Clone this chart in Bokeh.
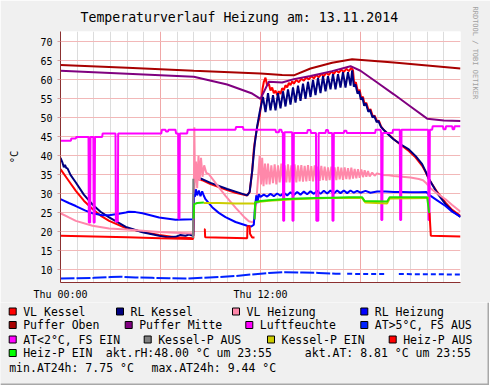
import math
from bokeh.plotting import figure
from bokeh.models import Range1d, FixedTicker, Grid, Title
from bokeh.layouts import column
from bokeh.core.properties import value
from bokeh.embed import file_html
from bokeh.resources import INLINE

NAN = float("nan")
MONO = "DejaVu Sans Mono"

# ---------------- data (hours since Thu 00:00, values in °C / %) ----------------
vlk_h = [0, 0.5, 0.92, 1.4, 1.92, 2.4, 2.92, 3.92, 4.92, 5.92, 6.9, 7.97, 8.03, 8.5, 9.0, 9.5, 10.0, 10.5,
         11.2, 11.35, 11.5, 11.6, 11.7, 11.8, 11.95, 12.05, 12.12, 12.2, 12.3, 12.4, 12.5, 12.6, 12.7, 12.8,
         12.9, 13.0, 13.1, 13.2, 13.3, 13.4, 13.5, 13.6, 13.7, 13.8, 13.9, 14.0, 14.15, 14.3, 14.45, 14.6,
         14.75, 14.9, 15.05, 15.2, 15.35, 15.5, 15.65, 15.8, 15.95, 16.1, 16.25, 16.4, 16.55, 16.7, 16.85,
         17.0, 17.15, 17.3, 17.45, 17.55, 17.62, 17.72, 17.85, 17.95, 18.05, 18.15, 18.25, 18.35, 18.5, 18.6,
         18.75, 18.85, 19.0, 19.1, 19.25, 19.45, 19.7, 20.0, 20.5, 20.9, 21.3, 21.7, 21.9, 22.1, 22.6, 23.1,
         23.5, 24.0]
vlk_v = [36.5, 33.4, 30.8, 28.2, 26.0, 24.3, 22.9, 21.0, 20.0, 19.2, 18.6, 18.3, 34.2, 33.6, 32.6, 31.8, 31.0, 30.3,
         29.6, 30.5, 36.0, 41.8, 45.0, 47.5, 50.5, 54.0, 57.6, 59.5, 60.6, 58.5, 59.0, 57.2, 58.0, 56.5,
         57.2, 56.0, 57.0, 56.3, 57.8, 57.3, 58.6, 58.0, 59.2, 58.6, 59.6, 59.0, 60.0, 59.4, 60.3, 59.8,
         60.7, 60.1, 61.0, 60.4, 61.3, 60.7, 61.6, 61.0, 61.9, 61.3, 62.2, 61.6, 62.5, 61.9, 62.7,
         62.1, 62.9, 62.3, 63.2, 62.5, 59.0, 59.4, 56.8, 57.4, 55.0, 55.6, 53.4, 54.0, 51.8, 52.3,
         50.2, 50.6, 49.0, 49.3, 47.6, 46.6, 45.6, 44.4, 42.6, 41.3, 39.6, 37.4, 35.8, 33.9, 30.5, 27.7,
         25.8, 24.2]

rlk_h = [0, 0.12, 0.2, 0.27, 0.35, 0.42, 0.6, 0.92, 1.4, 1.92, 2.4, 2.92, 3.92, 4.92, 5.92, 6.4, 6.9, 7.2, 7.5,
         7.7, 7.97, 8.02, 8.5, 9.0, 9.5, 10.0, 10.5, 11.2, 11.35, 11.5, 11.65, 11.8, 11.95, 12.05, 12.15,
         12.3, 12.45, 12.6, 12.75, 12.9, 13.05, 13.2, 13.35, 13.5, 13.65, 13.8, 13.95, 14.1, 14.25, 14.4,
         14.55, 14.7, 14.85, 15.0, 15.15, 15.3, 15.45, 15.6, 15.75, 15.9, 16.05, 16.2, 16.35, 16.5, 16.65,
         16.8, 16.95, 17.1, 17.25, 17.4, 17.5, 17.6, 17.7, 17.82, 17.92, 18.02, 18.12, 18.22, 18.32, 18.47,
         18.57, 18.72, 18.82, 18.97, 19.07, 19.22, 19.4, 19.7, 20.0, 20.5, 20.9, 21.3, 21.7, 21.9, 22.1,
         22.6, 23.1, 23.5, 24.0]
rlk_v = [39.5, 38.2, 37.0, 37.6, 36.8, 36.7, 35.0, 33.0, 29.8, 27.2, 25.3, 23.8, 21.3, 19.9, 19.0, 18.6, 18.7, 19.2, 19.0,
         19.3, 19.0, 34.5, 33.9, 32.9, 32.1, 31.3, 30.6, 29.6, 30.5, 36.0, 43.0, 47.8, 51.5, 53.5, 55.5,
         51.5, 56.5, 52.0, 56.0, 52.0, 56.5, 52.5, 57.0, 53.0, 57.5, 53.5, 58.0, 54.0, 58.5, 54.5,
         59.0, 55.0, 59.5, 55.5, 60.0, 56.0, 60.5, 56.5, 61.0, 57.0, 61.0, 57.5, 61.5, 57.5, 61.5,
         58.0, 62.0, 58.0, 62.0, 58.5, 62.5, 58.2, 58.8, 56.4, 57.0, 54.8, 55.3, 53.2, 53.8, 51.6,
         52.1, 50.1, 50.5, 48.9, 49.2, 47.7, 46.8, 45.5, 44.3, 42.8, 41.7, 40.0, 37.8, 36.0, 34.0,
         30.2, 27.3, 25.5, 23.9]

vlh_h = [0, 0.5, 0.92, 1.92, 2.92, 3.92, 4.92, 5.92, 6.9, 7.95, 8.0, 8.03, 8.07, 8.13, 8.2, 8.28, 8.35, 8.43,
         8.52, 8.62, 8.75, 8.9, 9.4, 9.9, 10.5, 11.0, 11.3, 11.55, 11.65, 11.75, 11.85, 11.95, 12.03, 12.1,
         12.18, 12.27, 12.36, 12.45, 12.55, 12.65, 12.75, 12.85, 12.95, 13.05, 13.15, 13.25, 13.35, 13.45,
         13.55, 13.65, 13.75, 13.85, 13.95, 14.05, 14.15, 14.25, 14.35, 14.45, 14.55, 14.65, 14.75, 14.85,
         14.95, 15.05, 15.15, 15.25, 15.35, 15.45, 15.55, 15.65, 15.75, 15.85, 15.95, 16.05, 16.15, 16.25,
         16.35, 16.45, 16.55, 16.65, 16.75, 16.85, 16.95, 17.05, 17.15, 17.25, 17.35, 17.45, 17.55, 17.65,
         17.75, 17.85, 17.95, 18.05, 18.15, 18.25, 18.35, 18.45, 18.55, 18.7, 18.85, 19.0, 19.3, 19.7,
         20.0, 20.5, 21.0, 21.5, 21.75, 21.95, 22.2, 22.6, 23.1, 23.5, 24.0]
vlh_v = [24.9, 23.8, 22.9, 21.6, 20.9, 20.6, 20.3, 20.0, 19.8, 19.6, 30.0, 47.5, 33.0, 38.5, 31.5, 40.0, 33.5, 39.5,
         34.5, 37.5, 35.5, 35.2, 32.3, 29.5, 26.4, 24.0, 22.8, 22.5, 23.5, 28.0, 34.0, 40.0, 32.5, 39.5,
         32.0, 38.0, 32.5, 38.0, 32.5, 37.5, 32.8, 37.8, 32.5, 37.5, 33.0, 38.0, 32.8, 37.5,
         33.0, 37.8, 33.0, 37.5, 33.2, 37.8, 33.0, 37.5, 33.3, 37.6, 33.2, 37.4, 33.3, 37.6,
         33.4, 37.3, 33.3, 37.5, 33.5, 37.2, 33.4, 37.4, 33.6, 37.2, 33.5, 37.0, 33.6, 37.2,
         33.8, 37.0, 33.6, 37.1, 33.8, 36.9, 33.7, 37.0, 33.9, 36.8, 33.8, 36.9, 34.0, 36.6,
         34.1, 36.5, 34.2, 36.4, 34.4, 36.2, 34.5, 36.0, 34.6, 35.6, 34.8, 35.4, 35.0, 34.9,
         34.7, 34.5, 34.3, 33.9, 33.6, 32.8, 31.5, 30.1, 28.6, 27.1, 25.3]

rlh_h = [0, 0.5, 0.92, 1.5, 1.92, 2.5, 2.92, 3.5, 3.92, 4.1, 4.5, 4.92, 5.92, 6.9, 7.95, 8.0, 8.06, 8.12, 8.2,
         8.3, 8.4, 8.5, 8.6, 8.7, 9.1, 9.5, 9.9, 10.5, 11.2, 11.45, 11.6, 11.68, 11.75, 11.82, 11.9, 12.0,
         12.2, 12.4, 12.6, 12.8, 13.0, 13.2, 13.4, 13.6, 13.8, 14.0, 14.2, 14.4, 14.6, 14.8, 15.0, 15.2,
         15.4, 15.6, 15.8, 16.0, 16.2, 16.4, 16.6, 16.8, 17.0, 17.2, 17.4, 17.6, 17.8, 18.0, 18.3, 18.6,
         19.0, 19.5, 20.0, 20.5, 21.0, 21.5, 21.95, 22.1, 22.6, 23.1, 23.5, 24.0]
rlh_v = [28.6, 27.6, 26.8, 25.6, 24.9, 24.4, 24.4, 24.8, 25.1, 25.3, 25.2, 24.9, 23.8, 23.2, 23.3, 30.0, 29.2, 31.2, 29.6,
         30.9, 29.4, 30.7, 29.5, 28.6, 26.5, 25.0, 23.9, 22.6, 21.6, 21.4, 21.9, 27.0, 29.6, 27.6, 29.9, 29.2,
         29.8, 29.3, 30.0, 29.4, 30.1, 29.5, 30.3, 29.6, 30.4, 29.7, 30.5, 29.8, 30.6, 29.9, 30.7, 30.0,
         30.8, 30.0, 30.8, 30.1, 30.9, 30.1, 30.9, 30.2, 30.9, 30.2, 30.9, 30.3, 30.8, 30.3, 30.8, 30.3,
         30.6, 30.6, 30.5, 30.5, 30.4, 30.4, 30.5, 29.8, 28.3, 26.8, 25.3, 24.0]

po_h = [0, 4, 8, 12, 13.3, 14, 15, 16.3, 17.5, 20, 22, 24]
po_v = [63.9, 63.2, 62.4, 61.7, 61.3, 61.2, 63.0, 64.5, 65.4, 64.6, 63.8, 63.0]

pm_h = [0, 4, 8, 10, 11.5, 12.0, 12.5, 13.3, 14, 15, 16.3, 17.4, 18, 19, 20, 21, 22, 23, 24]
pm_v = [62.4, 61.6, 60.8, 58.8, 56.4, 55.0, 59.5, 59.3, 60.2, 61.0, 62.3, 63.6, 62.4, 59.3, 56.2, 53.0, 49.8, 49.3, 49.2]

lf_h = [0, 0.62, 0.65, 0.92, 0.95, 1.68, 1.70, 1.78, 1.80, 1.97, 1.99, 2.05, 2.07, 2.50, 2.53, 3.30, 3.32, 3.44,
        3.46, 6.05, 6.08, 6.30, 6.33, 6.45, 6.48, 6.90, 6.93, 7.06, 7.08, 7.14, 7.16, 7.60, 7.63, 10.50, 10.53,
        10.95, 10.98, 12.90, 12.93, 13.10, 13.13, 13.25, 13.28, 13.34, 13.36, 13.42, 13.44, 13.90, 13.92, 13.98,
        14.00, 14.80, 14.83, 15.00, 15.03, 15.33, 15.35, 15.47, 15.49, 15.90, 15.93, 16.05, 16.08, 16.30, 16.32,
        16.38, 16.40, 17.00, 17.03, 17.15, 17.18, 18.88, 18.91, 19.20, 19.24, 19.25, 19.31, 19.33, 19.92, 19.95,
        20.36, 20.38, 20.44, 20.46, 22.06, 22.08, 22.14, 22.16, 22.30, 22.33, 22.95, 22.98, 23.10, 23.13, 23.50,
        23.53, 23.62, 23.65, 24.00]
lf_v = [44.0, 44.0, 44.6, 44.6, 45.0, 45.0, 22.5, 22.5, 45.0, 45.0, 22.5, 22.5, 45.0, 45.0, 45.9, 45.9, 22.7, 22.7,
        45.9, 45.9, 46.9, 46.9, 46.4, 46.4, 46.9, 46.9, 45.9, 45.9, 23.5, 23.5, 45.9, 45.9, 46.9, 46.9, 47.6,
        47.6, 46.9, 46.9, 46.2, 46.2, 46.9, 46.9, 46.2, 46.2, 22.9, 22.9, 46.2, 46.2, 22.9, 22.9,
        46.0, 46.0, 46.8, 46.8, 46.0, 46.0, 22.9, 22.9, 46.0, 46.0, 46.8, 46.8, 46.0, 46.0, 22.9,
        22.9, 46.0, 46.0, 46.6, 46.6, 46.0, 46.0, 46.9, 46.9, 46.0, 23.1, 23.1, 46.0, 46.0, 46.9,
        46.9, 23.1, 23.1, 46.9, 46.9, 23.1, 23.1, 46.9, 46.9, 47.8, 47.8, 47.0, 47.0, 47.8, 47.8,
        47.0, 47.0, 47.8, 47.8]

at_h = [0, 1, 2, 3, 3.6, 4.5, 5.5, 6.5, 7.5, 8.5, 9.5, 10.5, 11.5, 12.5, 13.5, 14.5, 15.5, 16.5, 16.8,
        17.2, 17.5, 18.5, 19.5, 19.95, 20.3, 20.5, 21.5, 22.5, 23.5, 24]
at_v = [7.7, 7.8, 7.9, 8.1, 8.2, 8.0, 7.9, 7.8, 7.7, 7.9, 8.1, 8.4, 8.8, 9.2, 9.4, 9.3, 9.2, 9.0, 9.0,
        8.95, 8.95, 8.9, 8.9, NAN, 8.9, 8.9, 8.85, 8.85, 8.8, 8.8]

kpa_h = [7.95, 7.97]
kpa_v = [18.3, 34.0]

kpe_h = [8.6, 9.5, 10.5, 11.5, 11.65, 11.7, 12.5, 14.0, 16.0, 18.1, 18.3, 19.6, 19.75, 22.1]
kpe_v = [27.6, 27.6, 27.5, 27.5, 27.4, 27.8, 28.2, 28.6, 28.9, 28.9, 27.7, 27.5, 28.8, 28.9]

hpa_h = [0, 2, 4, 6, 7.98, 8.3, 8.62, 8.66, 8.68, 11.2, 11.22, 11.35, 11.37, 11.5, 11.64, 20.0, 22.14, 22.22, 24.0]
hpa_v = [19.0, 18.8, 18.6, 18.3, 18.1, NAN, 20.7, 20.7, 18.6, 18.3, 21.5, 21.5, 19.5, 18.5, 18.5, NAN, 25.0, 19.0, 18.8]

hpe_h = [7.99, 8.02, 8.2, 8.6, 10.0, 11.64, 11.68, 12.0, 12.5, 13.3, 14.3, 15.3, 16.3, 17.3, 18.1, 18.25,
         19.6, 19.75, 22.0, 22.12]
hpe_v = [23.5, 27.3, 27.6, 27.7, NAN, 23.3, 27.8, 28.1, 28.3, 28.6, 28.8, 28.9, 29.0, 29.1, 29.1, 28.1,
         28.0, 29.1, 29.1, 25.0]

y_ticks = [10, 15, 20, 25, 30, 35, 40, 45, 50, 55, 60, 65, 70]
x_ticks = [0, 12]
x_tick_labels = ["Thu 00:00", "Thu 12:00"]

title_text = "Temperaturverlauf Heizung am: 13.11.2014"
y_label = "°C"
credit_text = "RRDTOOL / TOBI OETIKER"
legend_labels = ["VL Kessel", "RL Kessel", "VL Heizung", "RL Heizung",
                 "Puffer Oben", "Puffer Mitte", "Luftfeuchte", "AT>5°C, FS AUS",
                 "AT<2°C, FS EIN", "Kessel-P AUS", "Kessel-P EIN", "Heiz-P AUS",
                 "Heiz-P EIN"]
info_texts = ["akt.rH:48.00 °C um 23:55", "akt.AT: 8.81 °C um 23:55",
              "min.AT24h: 7.75 °C", "max.AT24h: 9.44 °C"]

# ---------------- styles ----------------
C_VLK = "#FF0000"
C_RLK = "#000080"
C_VLH = "#FF88AA"
C_RLH = "#0000FF"
C_PO = "#A80000"
C_PM = "#800080"
C_LF = "#FF00FF"
C_AT = "#0022FF"
C_ATL = "#FF00FF"
C_KPA = "#808080"
C_KPE = "#CCCC00"
C_HPA = "#FF0000"
C_HPE = "#22E000"
legend_colors = [C_VLK, C_RLK, C_VLH, C_RLH, C_PO, C_PM, C_LF, C_AT, C_ATL, C_KPA, C_KPE, C_HPA, "#00FF00"]
AXIS_C = "#8B3030"
BG = "#F0F0F0"

p = figure(width=489, height=294, frame_width=400, frame_height=251,
           x_range=Range1d(0, 24), y_range=Range1d(6.68, 72.73),
           output_backend="svg", toolbar_location=None,
           min_border_left=60, min_border_right=29, min_border_top=24, min_border_bottom=19,
           background_fill_color="white", border_fill_color=BG, outline_line_color=None)
p.frame_align = False

p.title.text = title_text
p.title.align = "left"
p.title.offset = 20
p.title.standoff = 14
p.title.text_font = MONO
p.title.text_font_size = "13.2px"
p.title.text_font_style = "normal"
p.title.text_color = "black"

p.add_layout(Title(text=credit_text, align="left", offset=-25, standoff=20,
                   text_font=MONO, text_font_size="7px", text_font_style="normal",
                   text_color="#A0A0A0"), "right")

p.xgrid.grid_line_color = None
p.ygrid.grid_line_color = None

minor_hours = [h for h in range(1, 24) if h % 6 != 0]
p.add_layout(Grid(dimension=0, ticker=FixedTicker(ticks=minor_hours), grid_line_color="#DCDCDC", grid_line_width=1))
p.add_layout(Grid(dimension=0, ticker=FixedTicker(ticks=[6, 12, 18]), grid_line_color="#F0A8A8", grid_line_width=1))
p.add_layout(Grid(dimension=1, ticker=FixedTicker(ticks=y_ticks), grid_line_color="#F2B8B8", grid_line_width=1))

p.xaxis.ticker = FixedTicker(ticks=x_ticks)
p.xaxis.major_label_overrides = {t: s for t, s in zip(x_ticks, x_tick_labels)}
p.yaxis.ticker = FixedTicker(ticks=y_ticks)
for ax in (p.xaxis, p.yaxis):
    ax.axis_line_color = AXIS_C
    ax.axis_line_width = 1
    ax.minor_tick_line_color = None
    ax.minor_tick_in = 0
    ax.minor_tick_out = 0
    ax.major_label_text_font = MONO
    ax.major_label_text_font_size = "10px"
    ax.major_label_text_color = "black"
p.xaxis.major_tick_line_color = None
p.xaxis.major_tick_in = 0
p.xaxis.major_tick_out = 0
p.xaxis.major_label_standoff = 6
p.yaxis.major_tick_in = 0
p.yaxis.major_tick_out = 3
p.yaxis.major_tick_line_color = "#D8A0A0"
p.yaxis.major_label_standoff = 5
p.yaxis.axis_label = y_label
p.yaxis.axis_label_standoff = 17
p.yaxis.axis_label_text_font = MONO
p.yaxis.axis_label_text_font_size = "10.5px"
p.yaxis.axis_label_text_font_style = "normal"
p.yaxis.axis_label_text_color = "black"

# series, in rrdtool drawing order
p.line(vlk_h, vlk_v, line_color=C_VLK, line_width=2)
p.line(rlk_h, rlk_v, line_color=C_RLK, line_width=2)
p.line(vlh_h, vlh_v, line_color=C_VLH, line_width=2)
p.line(rlh_h, rlh_v, line_color=C_RLH, line_width=2)
p.line(po_h, po_v, line_color=C_PO, line_width=2)
p.line(pm_h, pm_v, line_color=C_PM, line_width=2)
p.line(lf_h, lf_v, line_color=C_LF, line_width=2)
split = at_h.index(17.2)
p.line(at_h[:split], at_v[:split], line_color=C_AT, line_width=2, line_dash="14 2")
p.line(at_h[split:], at_v[split:], line_color=C_AT, line_width=2, line_dash="5 3")
p.line(kpa_h, kpa_v, line_color=C_KPA, line_width=2)
p.line(kpe_h, kpe_v, line_color=C_KPE, line_width=2)
p.line(hpa_h, hpa_v, line_color=C_HPA, line_width=2)
p.line(hpe_h, hpe_v, line_color=C_HPE, line_width=2)

# ---------------- legend area (page pixel coordinates) ----------------
lg = figure(width=489, height=83, frame_width=489, frame_height=83,
            x_range=Range1d(8, 497), y_range=Range1d(385, 302),
            x_axis_type=None, y_axis_type=None, output_backend="svg", toolbar_location=None,
            min_border=0, min_border_left=0, min_border_right=0, min_border_top=0, min_border_bottom=0,
            background_fill_color=BG, border_fill_color=BG, outline_line_color=None)
lg.frame_align = False

row_y = [311, 324.5, 339, 352.5, 367]
box_left = [16.7, 124, 240, 368.3,
            16.7, 132.7, 253.3, 368.3,
            16.7, 151.7, 275, 396.7,
            16.7]
box_row = [0, 0, 0, 0, 1, 1, 1, 1, 2, 2, 2, 2, 3]
bx = [b + 3.5 for b in box_left]
by = [row_y[r] for r in box_row]
lg.rect(x=bx, y=by, width=7, height=7, fill_color=legend_colors, line_color="black", line_width=1)
lg.text(x=[b + 14 for b in box_left], y=by, text=legend_labels,
        text_font=value(MONO), text_font_size="11.5px", text_color="black", text_baseline="middle")
info_x = [113.3, 312.3, 16.7, 159]
info_y = [row_y[3], row_y[3], row_y[4], row_y[4]]
lg.text(x=info_x, y=info_y, text=info_texts,
        text_font=value(MONO), text_font_size="11.5px", text_color="black", text_baseline="middle")
# image border shading (bottom / right)
lg.quad(left=[8, 495], right=[497, 497], top=[383, 302], bottom=[385, 385], fill_color="#A8A8A8", line_color=None)

layout = column(p, lg)
open("out.html", "w").write(file_html(layout, INLINE))
